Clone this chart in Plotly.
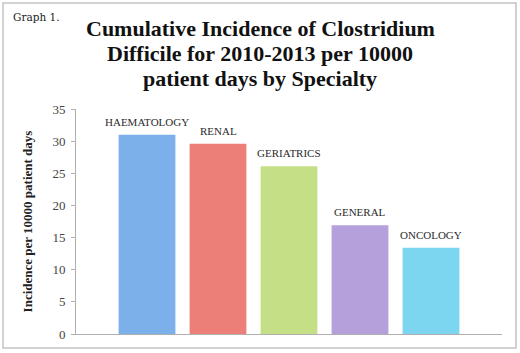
import plotly.graph_objects as go

specialties = ["HAEMATOLOGY", "RENAL", "GERIATRICS", "GENERAL", "ONCOLOGY"]
incidence = [31.0, 29.6, 26.1, 16.9, 13.4]
bar_colors = ["#7cb0ea", "#ec8079", "#c4df86", "#b6a0dc", "#7dd6ef"]
y_ticks = [0, 5, 10, 15, 20, 25, 30, 35]
title_lines = ["Cumulative Incidence of Clostridium",
               "Difficile for 2010-2013 per 10000",
               "patient days by Specialty"]

W, H = 520, 353
ml, mr, mt, mb = 76, 18, 109, 19
pw, ph = W - ml - mr, H - mt - mb


def py(pix):
    return (H - mb - pix) / ph


def px(pix):
    return (pix - ml) / pw


fig = go.Figure()
fig.add_trace(go.Bar(
    x=specialties, y=incidence,
    marker=dict(color=bar_colors, line=dict(width=0)),
    width=0.8,
    showlegend=False,
    hoverinfo="x+y",
))

for s, v in zip(specialties, incidence):
    fig.add_annotation(x=s, y=v, text=s, showarrow=False, yanchor="bottom",
                       yshift=5, font=dict(family="Liberation Serif", size=11, color="#2a2a2a"))

for i, line in enumerate(title_lines):
    fig.add_annotation(
        xref="paper", yref="paper",
        x=px(260), y=py(29 + 24.7 * i),
        text="<b>" + line + "</b>",
        showarrow=False, xanchor="center", yanchor="middle",
        font=dict(family="Liberation Serif", size=22, color="#111111"),
    )

fig.add_annotation(
    xref="paper", yref="paper",
    x=px(11), y=py(9),
    text="Graph 1.", showarrow=False, xanchor="left", yanchor="top",
    font=dict(family="DejaVu Serif", size=10.5, color="#222222"),
)

# outer frame
fig.add_shape(type="rect", xref="paper", yref="paper",
              x0=px(3), x1=px(516), y0=py(348), y1=py(3),
              line=dict(color="#c4c4c4", width=1.5), fillcolor="rgba(0,0,0,0)", layer="above")

fig.update_layout(
    width=W, height=H,
    margin=dict(l=ml, r=mr, t=mt, b=mb),
    paper_bgcolor="white", plot_bgcolor="white",
    bargap=0.2,
    xaxis=dict(range=[-1, 5], showticklabels=False, ticks="", showgrid=False,
               showline=True, linecolor="#b0b0b0", linewidth=1, zeroline=False),
    yaxis=dict(range=[0, 35], tickvals=y_ticks, showgrid=False, zeroline=False,
               showline=True, linecolor="#b0b0b0", linewidth=1,
               ticks="outside", ticklen=4, tickcolor="#b0b0b0",
               ticklabelstandoff=3,
               tickfont=dict(family="Liberation Serif", size=13, color="#444444"),
               title=dict(text="<b>Incidence per 10000 patient days</b>", standoff=16,
                          font=dict(family="Liberation Serif", size=13, color="#222222"))),
)

fig.write_html("out.html", config={"displayModeBar": False},
               post_script="document.body.style.margin='0';")
